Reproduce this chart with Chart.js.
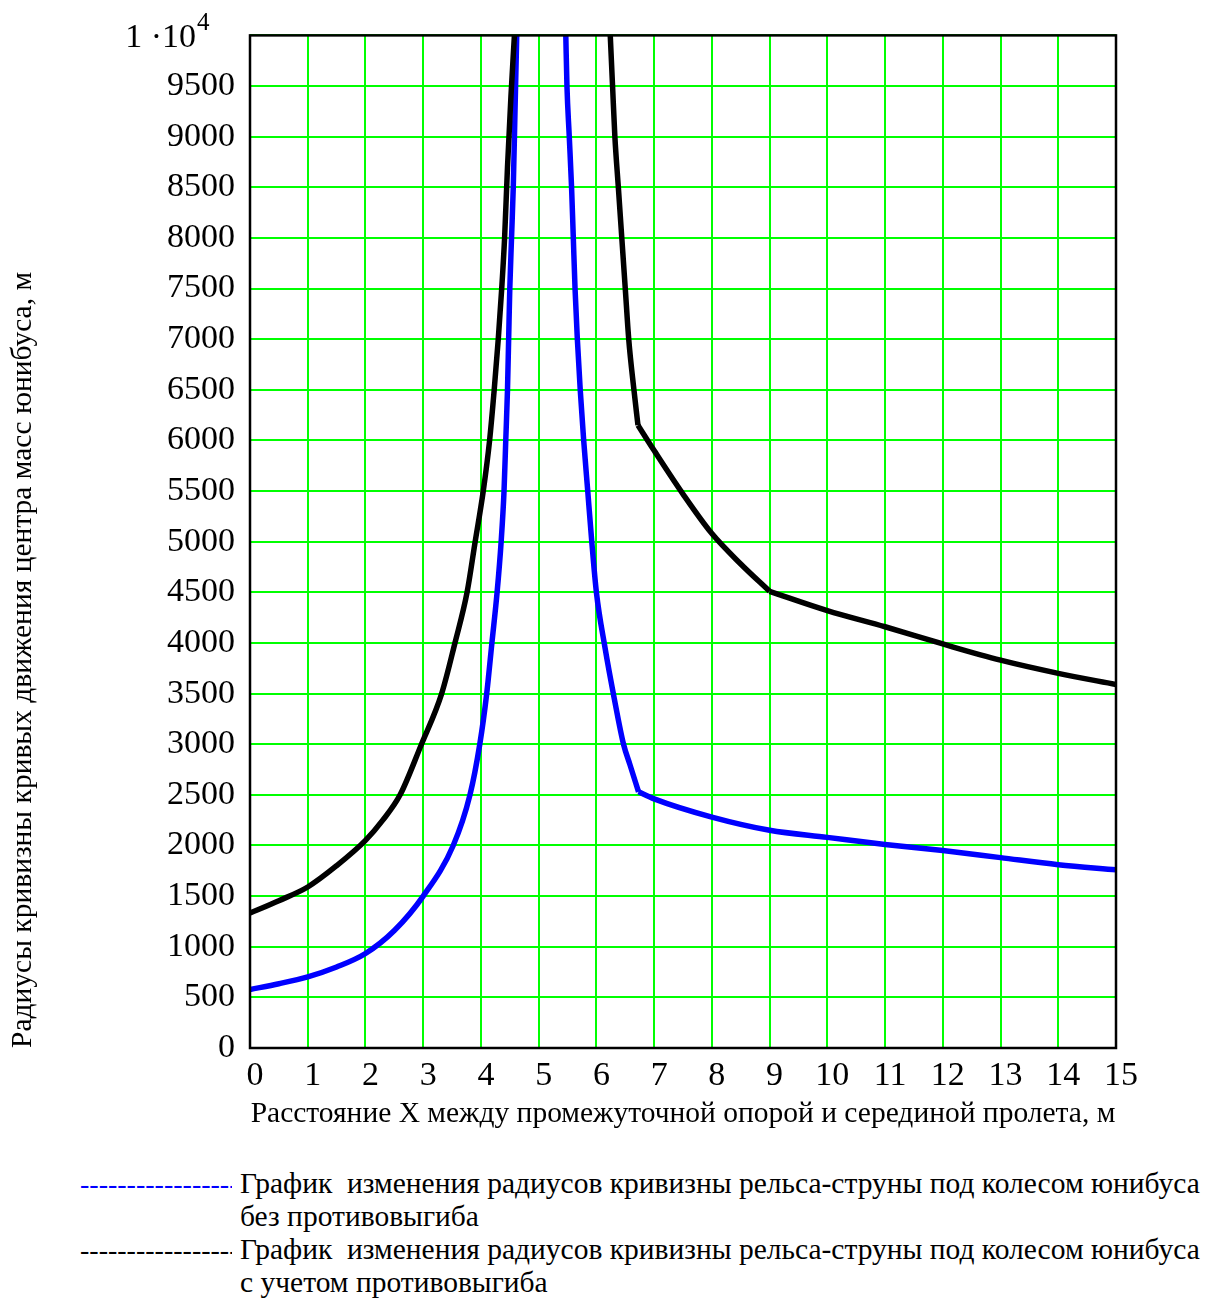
<!DOCTYPE html>
<html>
<head>
<meta charset="utf-8">
<script src="https://cdn.jsdelivr.net/npm/chart.js@4"></script>
<style>
  body { margin: 0; background: #fff; font-family: "Liberation Serif", "Times New Roman", serif; }
  #wrap { position: relative; width: 1206px; height: 1136px; }
  #legend { position: absolute; left: 80px; top: 1167px; font-size: 29.5px; line-height: 33px; color: #000; }
  #legend .row { white-space: nowrap; }
  #legend .dash { display: inline-block; width: 152px; margin-right: 8px; overflow: hidden; vertical-align: top; font-size: 28px; }
  #legend .indent { padding-left: 160px; }
</style>
</head>
<body>
<div id="wrap"><canvas id="chartR"></canvas></div>
<div id="legend">
  <div class="row"><span class="dash" style="color:#0000ff">--------------------</span>График&nbsp; изменения радиусов кривизны рельса-струны под колесом юнибуса</div>
  <div class="row indent">без противовыгиба</div>
  <div class="row"><span class="dash">--------------------</span>График&nbsp; изменения радиусов кривизны рельса-струны под колесом юнибуса</div>
  <div class="row indent">с учетом противовыгиба</div>
</div>
<script>
// без противовыгиба (синяя)
var blueLeftX = [0, 0.5, 1, 1.5, 2, 2.5, 3, 3.52, 3.81, 3.98, 4.1, 4.19, 4.28, 4.35, 4.40, 4.43, 4.46, 4.48, 4.50, 4.53, 4.56, 4.59, 4.62];
var blueLeftY = [578, 635, 703, 800, 933, 1160, 1500, 2000, 2500, 3000, 3500, 4000, 4500, 5000, 5500, 6000, 6500, 7000, 7500, 8000, 8500, 9250, 10000];
var blueRightX = [5.47, 5.49, 5.53, 5.57, 5.60, 5.63, 5.67, 5.72, 5.78, 5.85, 5.92, 6.0, 6.15, 6.31, 6.47, 6.58, 6.73];
var blueRightY = [10000, 9500, 9000, 8500, 8000, 7500, 7000, 6500, 6000, 5500, 5000, 4500, 3950, 3450, 3000, 2800, 2530];
var blueTailX = [6.73, 7, 8, 9, 10, 11, 12, 13, 14, 15];
var blueTailY = [2530, 2460, 2280, 2150, 2080, 2010, 1950, 1880, 1810, 1760];

// с учетом противовыгиба (черная)
var blackLeftX = [0, 0.5, 1, 1.5, 2, 2.3, 2.6, 2.97, 3.32, 3.55, 3.76, 3.90, 4.04, 4.15, 4.23, 4.30, 4.36, 4.41, 4.46, 4.52, 4.58];
var blackLeftY = [1333, 1455, 1590, 1800, 2050, 2250, 2500, 3000, 3500, 4000, 4500, 5000, 5500, 6000, 6500, 7000, 7500, 8000, 8700, 9400, 10000];
var blackRightX = [6.24, 6.28, 6.32, 6.38, 6.44, 6.50, 6.56, 6.65, 6.72];
var blackRightY = [10000, 9500, 9000, 8500, 8000, 7500, 7000, 6500, 6150];
var blackMidX = [6.72, 7, 7.5, 8, 8.5, 9];
var blackMidY = [6150, 5900, 5470, 5080, 4780, 4510];
var blackTailX = [9, 10, 11, 12, 13, 14, 15];
var blackTailY = [4510, 4320, 4160, 3990, 3830, 3700, 3590];

var xTitle = 'Расстояние X между промежуточной опорой и серединой пролета, м';
var yTitle = 'Радиусы кривизны кривых движения центра масс юнибуса, м';

function pts(xs, ys) {
  var out = [];
  for (var i = 0; i < xs.length; i++) out.push({x: xs[i], y: ys[i]});
  return out;
}

// frame round the plot + the 1·10^4 label
var framePlugin = {
  id: 'frame',
  afterDatasetsDraw: function(chart) {
    var a = chart.chartArea, ctx = chart.ctx;
    ctx.save();
    ctx.strokeStyle = '#000';
    ctx.lineWidth = 2.5;
    ctx.strokeRect(a.left, a.top, a.right - a.left, a.bottom - a.top);
    ctx.fillStyle = '#000';
    ctx.textBaseline = 'middle';
    ctx.textAlign = 'right';
    ctx.font = '34px "Liberation Serif"';
    ctx.fillText('1 ·10', 196, a.top + 3);
    ctx.textAlign = 'left';
    ctx.font = '25px "Liberation Serif"';
    ctx.fillText('4', 197, a.top - 12);
    ctx.restore();
  }
};

function line(data, color) {
  return {
    data: data,
    borderColor: color,
    borderWidth: 5.5,
    borderJoinStyle: 'round',
    pointRadius: 0,
    spanGaps: false,
    cubicInterpolationMode: 'monotone'
  };
}

var ctxR = document.getElementById('chartR').getContext('2d');
new Chart(ctxR, {
  type: 'line',
  data: {
    datasets: [
      line(pts(blackLeftX, blackLeftY), '#000000'),
      line(pts(blackRightX, blackRightY), '#000000'),
      line(pts(blackMidX, blackMidY), '#000000'),
      line(pts(blackTailX, blackTailY), '#000000'),
      line(pts(blueLeftX, blueLeftY), '#0000ff'),
      line(pts(blueRightX, blueRightY), '#0000ff'),
      line(pts(blueTailX, blueTailY), '#0000ff')
    ]
  },
  options: {
    responsive: true,
    maintainAspectRatio: false,
    animation: false,
    layout: { padding: { top: 33, right: 90, left: 0, bottom: 0 } },
    plugins: { legend: { display: false }, tooltip: { enabled: false } },
    scales: {
      x: {
        type: 'linear',
        min: 0, max: 15,
        ticks: { stepSize: 1, color: '#000', padding: 8, labelOffset: 5,
          font: { family: 'Liberation Serif', size: 34 } },
        grid: { color: '#00ff00', lineWidth: 2, drawTicks: false },
        border: { display: false },
        title: { display: true, text: xTitle, color: '#000', padding: { top: 4, bottom: 4 },
          font: { family: 'Liberation Serif', size: 29.5 } },
        afterFit: function(s) { s.height = 88; }
      },
      y: {
        min: 0, max: 10000,
        ticks: { stepSize: 500, color: '#000', padding: 15,
          font: { family: 'Liberation Serif', size: 34 },
          callback: function(v) { return v === 10000 ? '' : v; } },
        grid: { color: '#00ff00', lineWidth: 2, drawTicks: false },
        border: { display: false },
        title: { display: true, text: yTitle, color: '#000', align: 'start', padding: { top: 6, bottom: 4 },
          font: { family: 'Liberation Serif', size: 29.5 } },
        afterFit: function(s) { s.width = 250; }
      }
    }
  },
  plugins: [framePlugin]
});
</script>
</body>
</html>
